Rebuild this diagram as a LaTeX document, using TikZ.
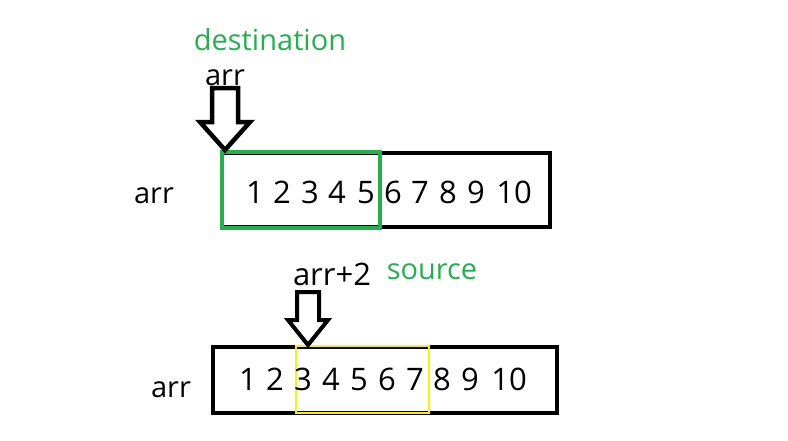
\documentclass[tikz,border=0pt]{standalone}
\usepackage{fontspec}
\setmainfont{Open Sans}
\usepackage{xcolor}
\usetikzlibrary{positioning}

\definecolor{paintgreen}{RGB}{34,177,76}
\definecolor{paintyellow}{RGB}{255,242,0}

\begin{document}
\begin{tikzpicture}[
  x=1pt, y=-1pt,
  arraybox/.style={draw, line width=3.5pt, inner sep=0pt},
  rangebox/.style={draw, line width=3.2pt, inner sep=0pt},
  blockarrow/.style={draw, line width=4.5pt, fill=white, line join=miter},
  digit/.style={font=\fontsize{31}{33}\selectfont, inner sep=0pt, anchor=base},
  lbl/.style={font=\fontsize{29}{32}\selectfont, inner sep=0pt, anchor=base},
  greenlbl/.style={font=\fontsize{29}{32}\selectfont, text=paintgreen, inner sep=0pt, anchor=base}
]
\useasboundingbox (0,0) rectangle (788,440);

% top array: memcpy destination
\node[arraybox, minimum width=328pt, minimum height=74pt] (arrTop) at (386,190) {};
\node[rangebox, draw=paintgreen, minimum width=158pt, minimum height=76pt] (dstBox) at (301,190) {};
\foreach \d/\x in {1/255,2/282,3/310,4/337,5/366,6/393,7/420,8/448,9/476,10/514}
  \node[digit] (t\d) at (\x,203) {\d};
\node[lbl] (nameTop) at (154,203) {arr};

\coordinate (dstTip) at (225,150);
\draw[blockarrow] (dstTip) -- ++(-25,-28) -- ++(12,0) -- ++(0,-34) -- ++(26,0)
  -- ++(0,34) -- ++(12,0) -- cycle;
\node[lbl] (ptrTop) at (225,85) {arr};
\node[greenlbl] (dstLbl) at (270,50) {destination};

% bottom array: memcpy source
\node[arraybox, minimum width=344pt, minimum height=66pt] (arrBot) at (385,380) {};
\node[rangebox, draw=paintyellow, line width=2.8pt, minimum width=133pt, minimum height=67pt] (srcBox) at (362.5,379.5) {};
\foreach \d/\x in {1/248,2/275,3/303,4/331,5/359,6/387,7/415,8/442,9/470,10/509}
  \node[digit] (b\d) at (\x,390) {\d};
\node[lbl] (nameBot) at (171,397) {arr};

\coordinate (srcTip) at (308,345);
\draw[blockarrow, line width=4pt] (srcTip) -- ++(-20,-25) -- ++(9,0) -- ++(0,-28) -- ++(22,0)
  -- ++(0,28) -- ++(9,0) -- cycle;
\node[lbl, font=\fontsize{31}{33}\selectfont] (ptrBot) at (332,285) {arr+2};
\node[greenlbl] (srcLbl) at (432,279) {source};
\end{tikzpicture}
\end{document}
